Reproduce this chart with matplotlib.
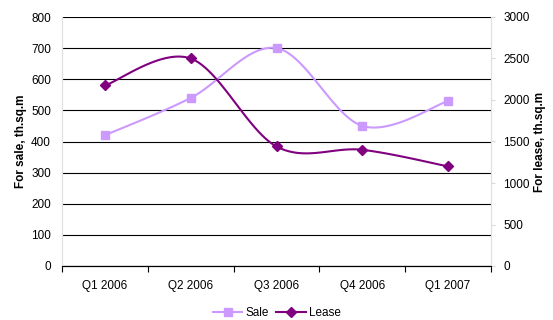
import numpy as np
import matplotlib.pyplot as plt
from matplotlib.lines import Line2D

plt.rcParams['font.family'] = ['Liberation Sans', 'DejaVu Sans']

quarters = ['Q1 2006', 'Q2 2006', 'Q3 2006', 'Q4 2006', 'Q1 2007']
sale = [420, 540, 700, 450, 530]        # th.sq.m, left axis
lease = [2175, 2500, 1440, 1400, 1200]  # th.sq.m, right axis

SALE_COLOR = '#CC99FF'
LEASE_COLOR = '#800080'


def smooth(xs, ys, steps=30):
    # cubic bezier through the points, control points from neighbours (1/6 rule)
    p = np.column_stack([xs, ys]).astype(float)
    n = len(p)
    out = []
    for i in range(n - 1):
        p0 = p[max(i - 1, 0)]
        p1 = p[i]
        p2 = p[i + 1]
        p3 = p[min(i + 2, n - 1)]
        c1 = p1 + (p2 - p0) / 6
        c2 = p2 - (p3 - p1) / 6
        t = np.linspace(0, 1, steps)[:, None]
        seg = ((1 - t) ** 3 * p1 + 3 * (1 - t) ** 2 * t * c1
               + 3 * (1 - t) * t ** 2 * c2 + t ** 3 * p2)
        out.append(seg if i == 0 else seg[1:])
    out = np.vstack(out)
    return out[:, 0], out[:, 1]


x = np.arange(len(quarters))

fig = plt.figure(figsize=(5.53, 3.2), dpi=100)
ax = fig.add_axes([62 / 553, 54 / 320, 429 / 553, 249 / 320])
ax2 = ax.twinx()

ax.set_xlim(-0.5, len(quarters) - 0.5)
ax.set_ylim(0, 800)
ax2.set_ylim(0, 3000)
ax.set_yticks(range(0, 801, 100))
ax2.set_yticks(range(0, 3001, 500))

ax.grid(axis='y', color='black', linewidth=0.8)
ax.set_axisbelow(True)

sx, sy = smooth(x, sale)
ax.plot(sx, sy, color=SALE_COLOR, linewidth=1.5, zorder=3)
ax.plot(x, sale, linestyle='none', marker='s', markersize=6,
        color=SALE_COLOR, zorder=4)

lx, ly = smooth(x, lease)
ax2.plot(lx, ly, color=LEASE_COLOR, linewidth=1.5, zorder=3)
ax2.plot(x, lease, linestyle='none', marker='D', markersize=5,
         color=LEASE_COLOR, zorder=4)

# category ticks sit between the quarters
ax.set_xticks(np.arange(-0.5, len(quarters), 1.0))
ax.set_xticklabels([])
ax.set_xticks(x, minor=True)
ax.set_xticklabels(quarters, minor=True)
ax.tick_params(axis='x', which='minor', length=0, pad=10, labelsize=8.5)
ax.tick_params(axis='x', which='major', length=4, width=0.8, color='black')

ax.tick_params(axis='y', length=0, pad=8, labelsize=8.5)
ax2.tick_params(axis='y', length=3, color='#d9d9d9', pad=6, labelsize=8.5)

for a in (ax, ax2):
    a.spines['top'].set_visible(False)
    a.spines['left'].set_color('#e0e0e0')
    a.spines['right'].set_color('#e0e0e0')
    a.spines['bottom'].set_color('black')
    a.spines['bottom'].set_linewidth(0.8)

ax.set_ylabel('For sale, th.sq.m', fontsize=8.5, fontweight='bold')
ax2.set_ylabel('For lease, th.sq.m', fontsize=8.5, fontweight='bold')
ax.yaxis.set_label_coords(-0.081, 0.5)
ax2.yaxis.set_label_coords(1.100, 0.5)

handles = [
    Line2D([], [], color=SALE_COLOR, marker='s', markersize=6, linewidth=1.5),
    Line2D([], [], color=LEASE_COLOR, marker='D', markersize=5, linewidth=1.5),
]
fig.legend(handles, ['Sale', 'Lease'], loc='center', bbox_to_anchor=(277 / 553, 1 - 313 / 320),
           ncol=2, frameon=False, fontsize=8.5, handlelength=2.5, handletextpad=0.3,
           columnspacing=0.6, borderpad=0)

fig.savefig('out.png', dpi=100)
